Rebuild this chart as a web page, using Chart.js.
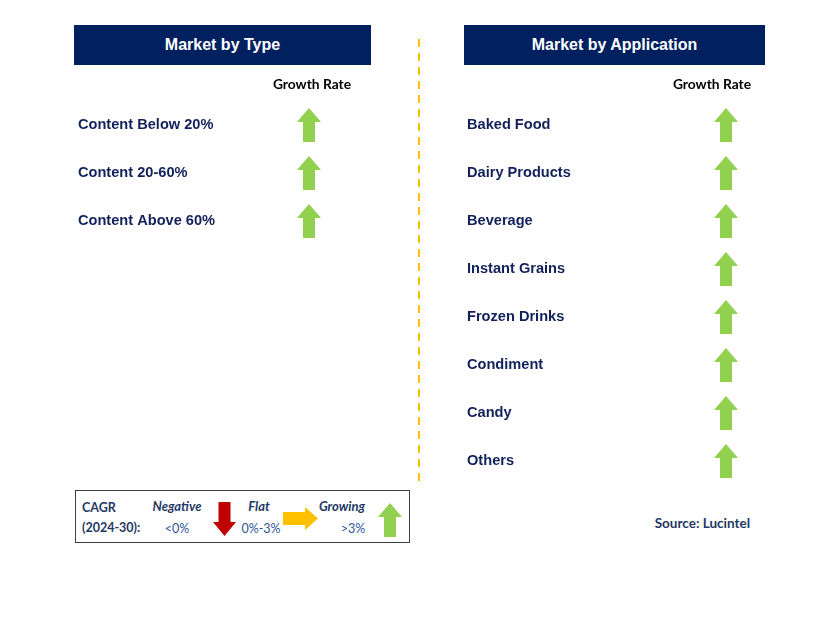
<!DOCTYPE html>
<html>
<head>
<meta charset="utf-8">
<script src="https://cdn.jsdelivr.net/npm/chart.js@4"></script>
<style>
  body { margin: 0; background: #fff; width: 829px; height: 638px; position: relative; overflow: hidden; font-family: "Liberation Sans", Arial, sans-serif; }
  .hdr { position: absolute; top: 25px; height: 40px; background: #002060; color: #fff; font: bold 16px "Liberation Sans", Arial, sans-serif; display: flex; align-items: center; justify-content: center; }
  .divider { position: absolute; left: 418px; top: 39px; height: 442px; width: 2px; background: repeating-linear-gradient(to bottom, #FFC000 0 8px, transparent 8px 14px); }
  .legend { position: absolute; left: 75px; top: 490px; width: 335px; height: 53px; border: 1.5px solid #404040; box-sizing: border-box; }
  .lt { position: absolute; font-family: Lato, "Open Sans", sans-serif; font-size: 13px; color: #1F3864; white-space: nowrap; }
  .lt.b { font-weight: bold; font-size: 12.5px; }
  .lt.i { font-weight: bold; font-style: italic; transform: translateX(-50%); }
  .lt.v { color: #2F5597; font-size: 12.5px; transform: translateX(-50%); }
  .src { position: absolute; right: 79px; top: 515px; font: bold 13.5px Lato, sans-serif; color: #1F3864; }
  canvas.c { position: absolute; }
</style>
</head>
<body>
<div class="hdr" style="left:74px;width:297px;">Market by Type</div>
<div class="hdr" style="left:464px;width:301px;">Market by Application</div>
<div class="divider"></div>

<canvas id="typeChart" class="c" style="left:78px;top:71px;"></canvas>
<canvas id="appChart" class="c" style="left:467px;top:71px;"></canvas>

<div class="legend" id="legend"></div>
<div class="src">Source: Lucintel</div>

<script>
// data
const growthLabel = ['Growth Rate'];
const typeSegments = ['Content Below 20%', 'Content 20-60%', 'Content Above 60%'];
const typeGrowth = ['Growing', 'Growing', 'Growing'];
const appSegments = ['Baked Food', 'Dairy Products', 'Beverage', 'Instant Grains', 'Frozen Drinks', 'Condiment', 'Candy', 'Others'];
const appGrowth = ['Growing', 'Growing', 'Growing', 'Growing', 'Growing', 'Growing', 'Growing', 'Growing'];

// arrow pictures used as point styles
function makeArrow(dir, color, w, h) {
    const c = document.createElement('canvas');
    c.width = w; c.height = h;
    const g = c.getContext('2d');
    g.fillStyle = color;
    g.beginPath();
    if (dir == 'up' || dir == 'down') {
        const head = Math.round(h * 0.4), sw = Math.round(w * 0.5), sx = (w - sw) / 2;
        if (dir == 'up') {
            g.moveTo(w / 2, 0); g.lineTo(w, head); g.lineTo(sx + sw, head); g.lineTo(sx + sw, h);
            g.lineTo(sx, h); g.lineTo(sx, head); g.lineTo(0, head);
        } else {
            g.moveTo(w / 2, h); g.lineTo(w, h - head); g.lineTo(sx + sw, h - head); g.lineTo(sx + sw, 0);
            g.lineTo(sx, 0); g.lineTo(sx, h - head); g.lineTo(0, h - head);
        }
    } else {
        const head = Math.round(w * 0.36), sh = Math.round(h * 0.56), sy = (h - sh) / 2;
        g.moveTo(w, h / 2); g.lineTo(w - head, 0); g.lineTo(w - head, sy); g.lineTo(0, sy);
        g.lineTo(0, sy + sh); g.lineTo(w - head, sy + sh); g.lineTo(w - head, h);
    }
    g.closePath();
    g.fill();
    return c;
}

const arrows = {
    Growing: makeArrow('up', '#92D050', 24, 34),
    Flat: makeArrow('right', '#FFC000', 35, 23),
    Negative: makeArrow('down', '#C00000', 23, 34)
};

const rowH = 48;
const axisH = 30;

function growthChart(id, segments, growth, labelW, labelShift) {
    const cv = document.getElementById(id);
    cv.width = 300;
    cv.height = axisH + rowH * segments.length;
    cv.style.width = '300px';
    cv.style.height = cv.height + 'px';
    return new Chart(cv.getContext('2d'), {
        type: 'scatter',
        data: {
            datasets: [{
                data: segments.map(s => ({ x: growthLabel[0], y: s })),
                pointStyle: growth.map(g => arrows[g]),
                pointRadius: 12,
                pointHoverRadius: 12
            }]
        },
        options: {
            responsive: false,
            animation: false,
            events: [],
            layout: { padding: 0, autoPadding: false },
            plugins: { legend: { display: false }, tooltip: { enabled: false } },
            scales: {
                x: {
                    type: 'category',
                    labels: growthLabel,
                    position: 'top',
                    offset: true,
                    grid: { display: false, drawTicks: false },
                    border: { display: false },
                    ticks: { padding: 8, labelOffset: labelShift, color: '#000', font: { family: 'Lato', size: 13.8, weight: 'bold' } },
                    afterFit: s => { s.height = axisH; s.paddingLeft = 0; s.paddingRight = 0; }
                },
                y: {
                    type: 'category',
                    labels: segments,
                    offset: true,
                    grid: { display: false, drawTicks: false },
                    border: { display: false },
                    ticks: { crossAlign: 'far', color: '#12215a', font: { family: 'Liberation Sans', size: 14.6, weight: 'bold' } },
                    afterFit: s => { s.width = labelW; s.paddingTop = 0; s.paddingBottom = 0; }
                }
            }
        }
    });
}

growthChart('typeChart', typeSegments, typeGrowth, 162, 3);
growthChart('appChart', appSegments, appGrowth, 218, -14);

// CAGR key box
const legend = document.getElementById('legend');
const keyItems = [
    { name: 'Negative', range: '<0%', nameX: 101, rangeX: 101, arrowX: 137, arrowY: 11 },
    { name: 'Flat', range: '0%-3%', nameX: 183, rangeX: 185, arrowX: 207, arrowY: 16 },
    { name: 'Growing', range: '>3%', nameX: 266, rangeX: 277, arrowX: 302, arrowY: 12 }
];
legend.innerHTML = '<div class="lt b" style="left:6px;top:9px;">CAGR</div><div class="lt b" style="left:6px;top:29px;">(2024-30):</div>';
for (const k of keyItems) {
    legend.insertAdjacentHTML('beforeend',
        `<div class="lt i" style="left:${k.nameX}px;top:7px;">${k.name}</div>` +
        `<div class="lt v" style="left:${k.rangeX}px;top:30px;">${k.range}</div>`);
    const a = arrows[k.name];
    const cv = document.createElement('canvas');
    cv.width = a.width; cv.height = a.height;
    cv.getContext('2d').drawImage(a, 0, 0);
    cv.className = 'c';
    cv.style.left = k.arrowX + 'px';
    cv.style.top = k.arrowY + 'px';
    legend.appendChild(cv);
}
</script>
</body>
</html>
